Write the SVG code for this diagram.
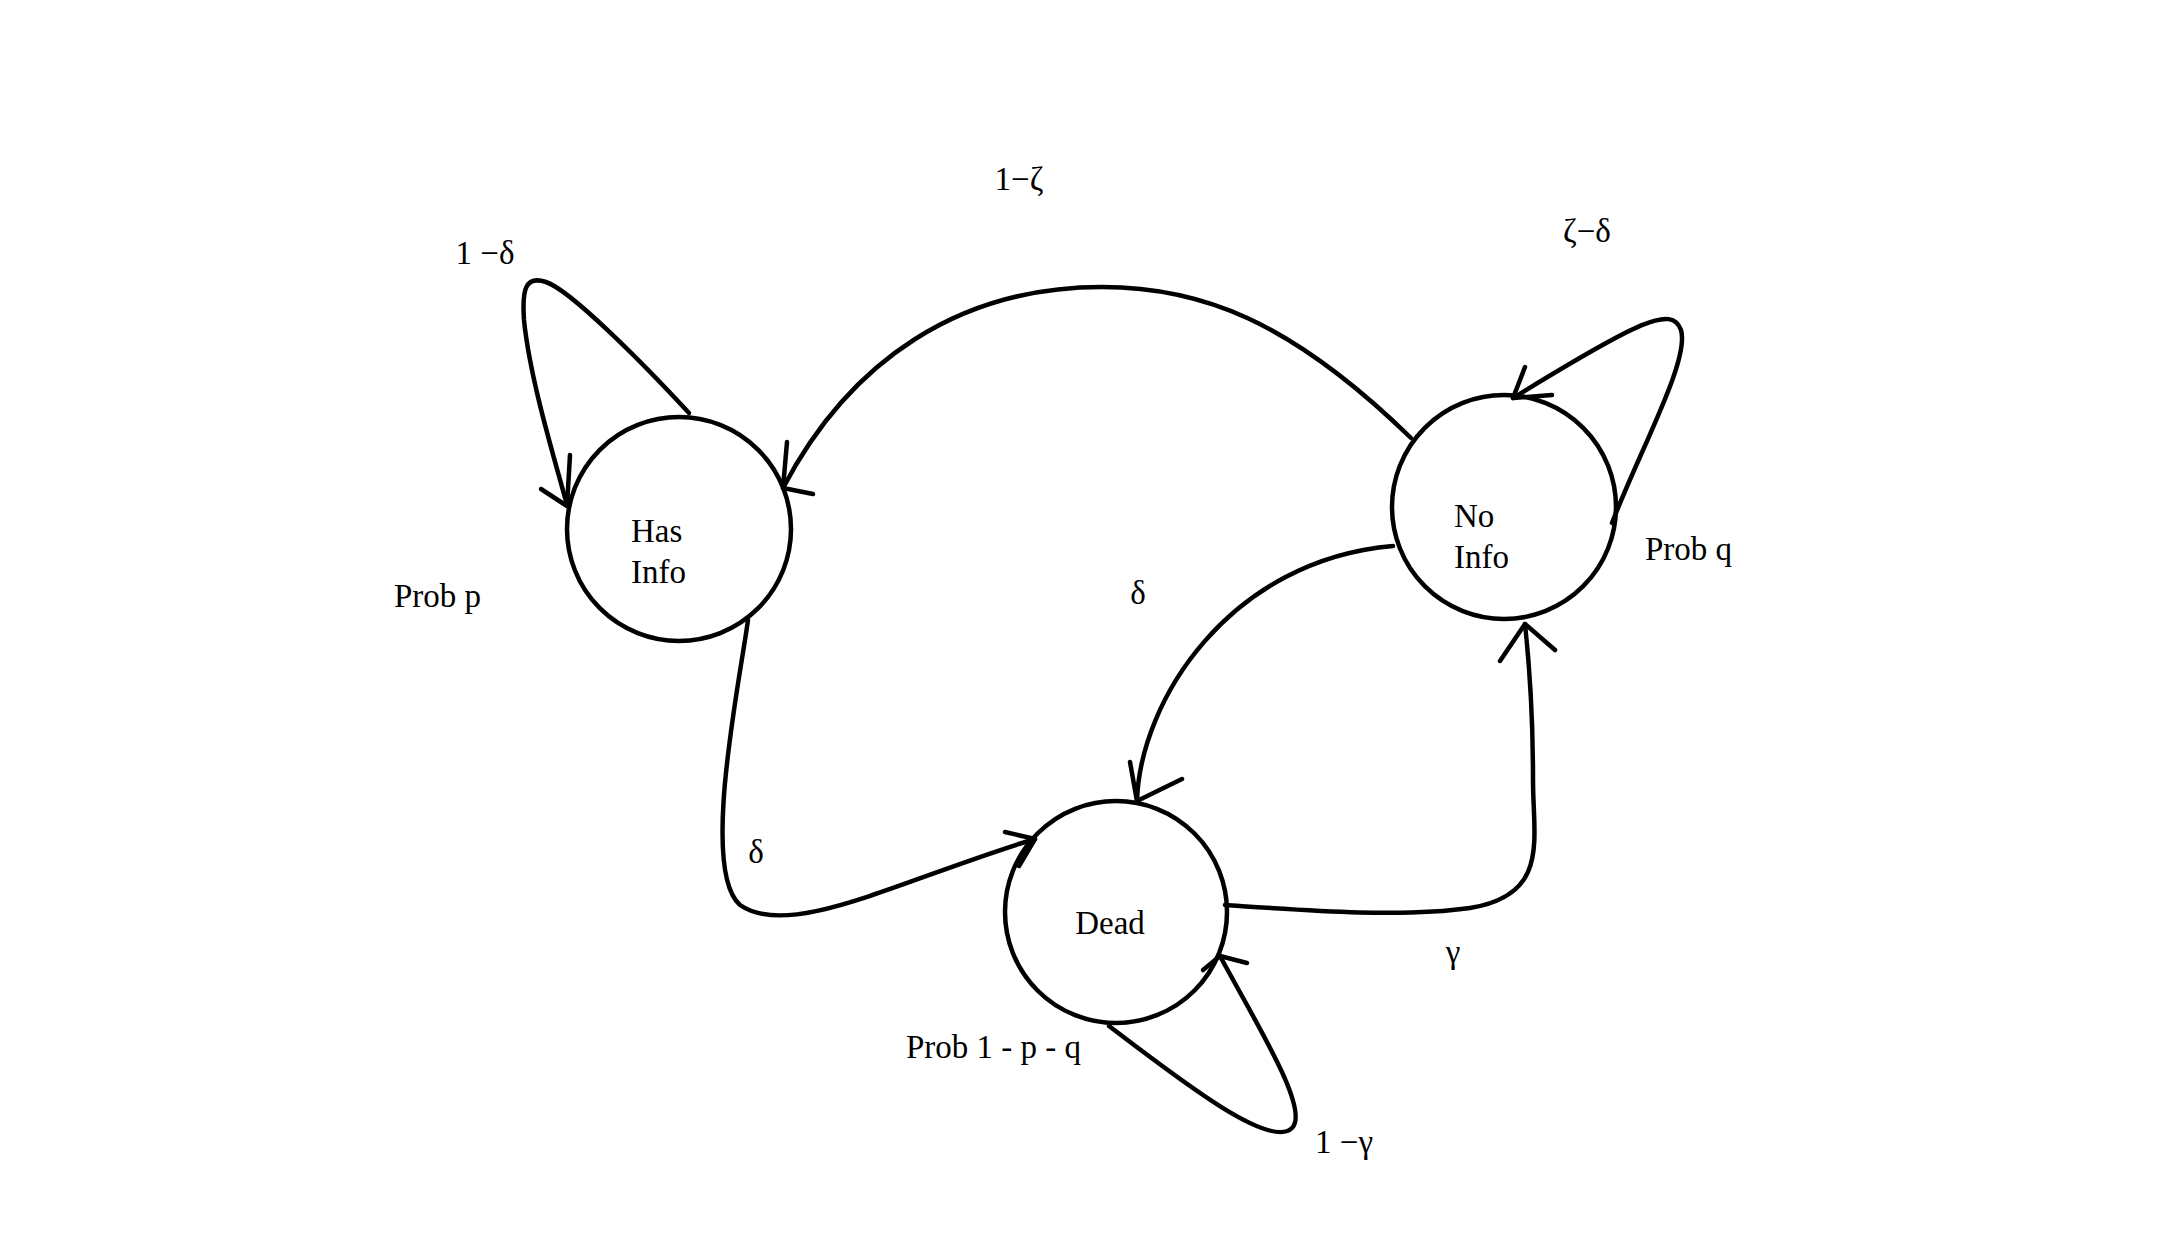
<svg xmlns="http://www.w3.org/2000/svg" width="2173" height="1235" viewBox="0 0 2173 1235">
<style>
.n{fill:none;stroke:#000;stroke-width:4.5}
.c{fill:none;stroke:#000;stroke-width:4.5;stroke-linecap:round;stroke-linejoin:round}
text{font-family:"Liberation Serif",serif;font-size:33px;fill:#000}
</style>
<rect width="2173" height="1235" fill="#fff"/>
<g id="connectors">
<path class="c" d="M689,413 C640,360 570,290 546,282 C525,275 522,290 524,320 C530,380 555,460 567,505"/>
<path class="c" d="M570,455 L567,506 L541,489"/>
<path class="c" d="M1411,438 C1290,320 1200,287 1102,287 C960,287 850,360 783,488"/>
<path class="c" d="M787,442 L783,488 L813,494"/>
<path class="c" d="M1612,523 C1640,450 1690,360 1681,330 C1672,305 1640,320 1513,398"/>
<path class="c" d="M1552,395 L1513,398 L1525,367"/>
<path class="c" d="M748,620 C740,680 700,870 740,905 C790,940 900,880 1035,839"/>
<path class="c" d="M1005,832 L1035,839 L1019,866"/>
<path class="c" d="M1393,546 C1230,560 1140,700 1137,801"/>
<path class="c" d="M1130,762 L1137,801 L1182,779"/>
<path class="c" d="M1225,905 C1300,910 1400,918 1470,908 C1550,895 1533,840 1533,780 C1533,720 1530,670 1525,624"/>
<path class="c" d="M1500,661 L1525,624 L1555,650"/>
<path class="c" d="M1109,1026 C1180,1080 1270,1150 1292,1128 C1310,1110 1260,1030 1220,956"/>
<path class="c" d="M1203,970 L1220,956 L1247,963"/>
</g>
<g id="has-info">
<circle class="n" cx="679" cy="529" r="112"/>
<text x="631" y="542">Has</text>
<text x="631" y="583">Info</text>
</g>
<g id="no-info">
<circle class="n" cx="1504" cy="507" r="112"/>
<text x="1454" y="527">No</text>
<text x="1454" y="568">Info</text>
</g>
<g id="dead">
<circle class="n" cx="1116" cy="912" r="111"/>
<text x="1110" y="934" text-anchor="middle">Dead</text>
</g>
<g id="labels">
<text x="1019" y="190" text-anchor="middle">1−ζ</text>
<text x="1587" y="242" text-anchor="middle">ζ−δ</text>
<text x="485" y="264" text-anchor="middle">1 −δ</text>
<text x="394" y="607">Prob  p</text>
<text x="1645" y="560">Prob   q</text>
<text x="906" y="1058">Prob 1 - p - q</text>
<text x="756" y="863" text-anchor="middle">δ</text>
<text x="1138" y="604" text-anchor="middle">δ</text>
<text x="1453" y="963" text-anchor="middle">γ</text>
<text x="1344" y="1153" text-anchor="middle">1 −γ</text>
</g>
</svg>
